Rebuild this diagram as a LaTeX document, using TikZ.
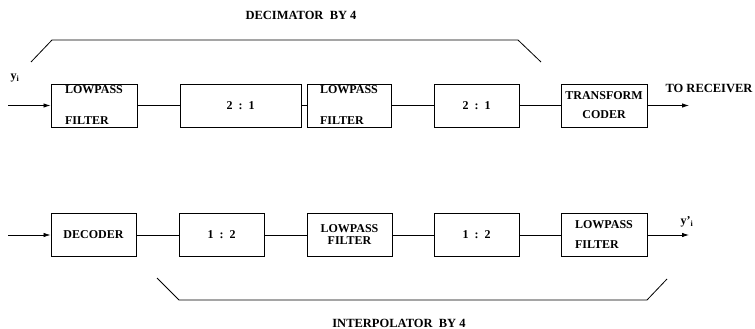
\documentclass[tikz,border=0pt]{standalone}
\usepackage{fontspec}
\setmainfont{Liberation Serif}
\usetikzlibrary{arrows.meta}

\begin{document}
\begin{tikzpicture}[x=1pt,y=-1pt,font=\bfseries\fontsize{12}{14}\selectfont,
    blk/.style={draw,line width=1pt,inner sep=0pt,minimum height=43pt},
    wire/.style={line width=0.8pt},
    sig/.style={wire,-{Latex[length=7pt,width=4.5pt]}}]
  \useasboundingbox (0,0) rectangle (755,329);

  % coder side
  \node[blk,minimum width=86pt,align=left] (lpa) at (94,105.5) {LOWPASS\\[17pt]FILTER};
  \node[blk,minimum width=121pt] (dna) at (240.5,105.5) {2\enspace:\enspace1};
  \node[blk,minimum width=84pt,align=left] (lpb) at (349,105.5) {LOWPASS\\[17pt]FILTER};
  \node[blk,minimum width=85pt] (dnb) at (476.5,105.5) {2\enspace:\enspace1};
  \node[blk,minimum width=86pt,align=center] (tc) at (604,105.5) {TRANSFORM\\[5pt]CODER};

  % decoder side
  \node[blk,minimum width=85pt] (dec) at (93.5,235) {DECODER};
  \node[blk,minimum width=85pt] (upa) at (221.5,235) {1\enspace:\enspace2};
  \node[blk,minimum width=85pt,align=center] (lpc) at (349.5,235) {LOWPASS\\[-2pt]FILTER};
  \node[blk,minimum width=85pt] (upb) at (476.5,235) {1\enspace:\enspace2};
  \node[blk,minimum width=86pt,align=left] (lpd) at (604,235) {LOWPASS\\[6pt]FILTER};

  % ends
  \coordinate (ina) at (8,105.5);
  \coordinate (outa) at (689,105.5);
  \coordinate (inb) at (8,235);
  \coordinate (outb) at (689,235);
  \node (yin) at (15,78) {y\textsubscript{i}};
  \node (yout) at (687,222) {y'\textsubscript{i}};
  \node[anchor=west,font=\bfseries\fontsize{12.5}{14}\selectfont] (rx) at (662,88) {TO RECEIVER};

  \draw[sig] (ina) -- (lpa);
  \draw[sig] (tc) -- (outa);
  \draw[sig] (inb) -- (dec);
  \draw[sig] (lpd) -- (outb);
  \foreach \a/\b in {lpa/dna,dna/lpb,lpb/dnb,dnb/tc,dec/upa,upa/lpc,lpc/upb,upb/lpd}
    \draw[wire] (\a) -- (\b);

  % braces
  \draw[wire] (31,62) -- (52,40) -- (518,40) -- (541,62);
  \node[font=\bfseries\fontsize{12.5}{14}\selectfont] (dcm) at (301,15) {DECIMATOR\ \ BY\ 4};
  \draw[wire] (157,278) -- (179,300) -- (647,300) -- (667,279);
  \node[font=\bfseries\fontsize{12.5}{14}\selectfont] (itp) at (399,323) {INTERPOLATOR\ \ BY\ 4};
\end{tikzpicture}
\end{document}
